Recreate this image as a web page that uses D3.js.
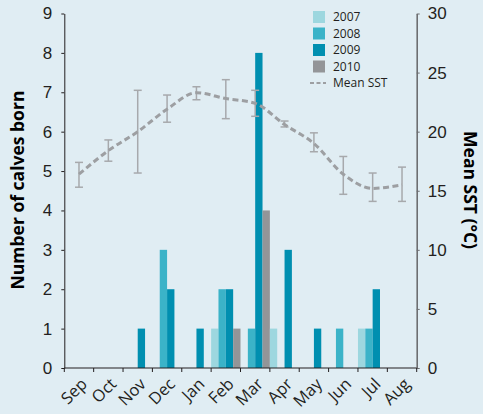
<!DOCTYPE html>
<html>
<head>
<meta charset="utf-8">
<script src="https://cdn.jsdelivr.net/npm/d3@7"></script>
<style>
  body { margin: 0; background: #e0edf3; }
  svg { display: block; font-family: "Open Sans", "Noto Sans", sans-serif; }
</style>
</head>
<body>
<div id="chart"></div>
<script>
// months on the x axis
const months = ["Sep", "Oct", "Nov", "Dec", "Jan", "Feb", "Mar", "Apr", "May", "Jun", "Jul", "Aug"]
const years = ["2007", "2008", "2009", "2010"]

// calves born per month, one array per year
const calves2007 = [0, 0, 0, 0, 0, 1, 0, 1, 0, 0, 1, 0]
const calves2008 = [0, 0, 0, 3, 0, 2, 1, 0, 0, 1, 1, 0]
const calves2009 = [0, 0, 1, 2, 1, 2, 8, 3, 1, 0, 2, 0]
const calves2010 = [0, 0, 0, 0, 0, 1, 4, 0, 0, 0, 0, 0]

// mean SST and error bar ends
const sstMean = [16.4, 18.4, 20.0, 21.9, 23.3, 22.8, 22.4, 20.6, 19.0, 16.4, 15.2, 15.5]
const sstHigh = [17.4, 19.3, 23.5, 23.1, 23.8, 24.4, 23.5, 20.9, 19.9, 17.9, 16.5, 17.0]
const sstLow  = [15.3, 17.5, 16.5, 20.8, 22.7, 21.1, 21.3, 20.4, 18.3, 14.7, 14.1, 14.1]

const leftTicks = [0, 1, 2, 3, 4, 5, 6, 7, 8, 9]
const rightTicks = [0, 5, 10, 15, 20, 25, 30]

const colors = { "2007": "#9dd7df", "2008": "#3bb3c8", "2009": "#008fb0", "2010": "#939598" }

const W = 483, H = 414
const margin = { top: 13.5, right: 66.3, bottom: 46, left: 64.3 }
const width = W - margin.left - margin.right
const height = H - margin.top - margin.bottom

const svg = d3.select("#chart").append("svg")
  .attr("width", W).attr("height", H)
const g = svg.append("g")
  .attr("transform", "translate(" + margin.left + "," + margin.top + ")")

const x = d3.scaleBand().domain(months).range([0, width]).padding(0)
const xSub = d3.scaleBand().domain(years).range([0, x.bandwidth()]).padding(0)
const y = d3.scaleLinear().domain([0, 9]).range([height, 0])
const y2 = d3.scaleLinear().domain([0, 30]).range([height, 0])

// bars
const rows = months.map((m, i) => ({
  month: m,
  "2007": calves2007[i], "2008": calves2008[i], "2009": calves2009[i], "2010": calves2010[i]
}))

g.append("g").selectAll("g")
  .data(rows)
  .enter().append("g")
    .attr("transform", d => "translate(" + x(d.month) + ",0)")
  .selectAll("rect")
  .data(d => years.map(k => ({ key: k, value: d[k] })).filter(d => d.value > 0))
  .enter().append("rect")
    .attr("x", d => xSub(d.key))
    .attr("y", d => y(d.value))
    .attr("width", xSub.bandwidth())
    .attr("height", d => height - y(d.value))
    .attr("fill", d => colors[d.key])

// SST error bars
const cx = m => x(m) + x.bandwidth() / 2
const err = g.append("g").attr("stroke", "#a7a9ac").attr("stroke-width", 1.5).attr("fill", "none")
months.forEach((m, i) => {
  err.append("line").attr("x1", cx(m)).attr("x2", cx(m)).attr("y1", y2(sstLow[i])).attr("y2", y2(sstHigh[i]))
  err.append("line").attr("x1", cx(m) - 4).attr("x2", cx(m) + 4).attr("y1", y2(sstLow[i])).attr("y2", y2(sstLow[i]))
  err.append("line").attr("x1", cx(m) - 4).attr("x2", cx(m) + 4).attr("y1", y2(sstHigh[i])).attr("y2", y2(sstHigh[i]))
})

// SST line
const line = d3.line().x((d, i) => cx(months[i])).y(d => y2(d)).curve(d3.curveMonotoneX)
g.append("path")
  .datum(sstMean)
  .attr("d", line)
  .attr("fill", "none")
  .attr("stroke", "#9d9fa2")
  .attr("stroke-width", 3)
  .attr("stroke-dasharray", "6,3.5")

// left axis
const yAxis = g.append("g")
  .call(d3.axisLeft(y).tickValues(leftTicks).tickSize(3).tickPadding(9).tickSizeOuter(0))
yAxis.selectAll("text").attr("font-size", 17).attr("fill", "#231f20")
yAxis.selectAll("line, path").attr("stroke", "#231f20")

// right axis
const y2Axis = g.append("g")
  .attr("transform", "translate(" + width + ",0)")
  .call(d3.axisRight(y2).tickValues(rightTicks).tickSize(3).tickPadding(8).tickSizeOuter(0))
y2Axis.selectAll("text").attr("font-size", 17).attr("fill", "#231f20")
y2Axis.selectAll("line").attr("stroke", "#6d6e71")
y2Axis.select("path").attr("stroke", "#6d6e71").attr("stroke-width", 1.6)

// bottom axis with ticks at month boundaries
const xAxis = g.append("g").attr("transform", "translate(0," + height + ")")
xAxis.append("line").attr("x1", 0).attr("x2", width).attr("stroke", "#231f20").attr("stroke-width", 1.2)
xAxis.selectAll(".tk")
  .data(months.concat(["end"]))
  .enter().append("line")
    .attr("x1", (d, i) => i * x.step()).attr("x2", (d, i) => i * x.step())
    .attr("y1", 0).attr("y2", 4)
    .attr("stroke", "#231f20")
xAxis.selectAll(".lbl")
  .data(months)
  .enter().append("text")
    .attr("transform", d => "translate(" + (cx(d) + 5) + ",13) rotate(-45)")
    .attr("text-anchor", "end")
    .attr("dy", "0.35em")
    .attr("font-size", 16.5)
    .attr("fill", "#231f20")
    .text(d => d)

// axis titles
svg.append("text")
  .attr("transform", "translate(24,190) rotate(-90)")
  .attr("text-anchor", "middle")
  .attr("font-size", 17.5).attr("font-weight", "bold").attr("fill", "#000")
  .text("Number of calves born")
svg.append("text")
  .attr("transform", "translate(464,190) rotate(90)")
  .attr("text-anchor", "middle")
  .attr("font-size", 17.5).attr("font-weight", "bold").attr("fill", "#000")
  .text("Mean SST (°C)")

// legend
const legend = svg.append("g").attr("transform", "translate(313,11)")
years.forEach((yr, i) => {
  legend.append("rect").attr("x", 0).attr("y", i * 16.5).attr("width", 12).attr("height", 12).attr("fill", colors[yr])
  legend.append("text").attr("x", 20).attr("y", i * 16.5 + 6).attr("dy", "0.35em")
    .attr("font-size", 12).attr("fill", "#231f20").text(yr)
})
legend.append("line").attr("x1", -3).attr("x2", 13).attr("y1", 72).attr("y2", 72)
  .attr("stroke", "#9d9fa2").attr("stroke-width", 2).attr("stroke-dasharray", "4,2.5")
legend.append("text").attr("x", 20).attr("y", 72).attr("dy", "0.35em")
  .attr("font-size", 12).attr("fill", "#231f20").text("Mean SST")
</script>
</body>
</html>
